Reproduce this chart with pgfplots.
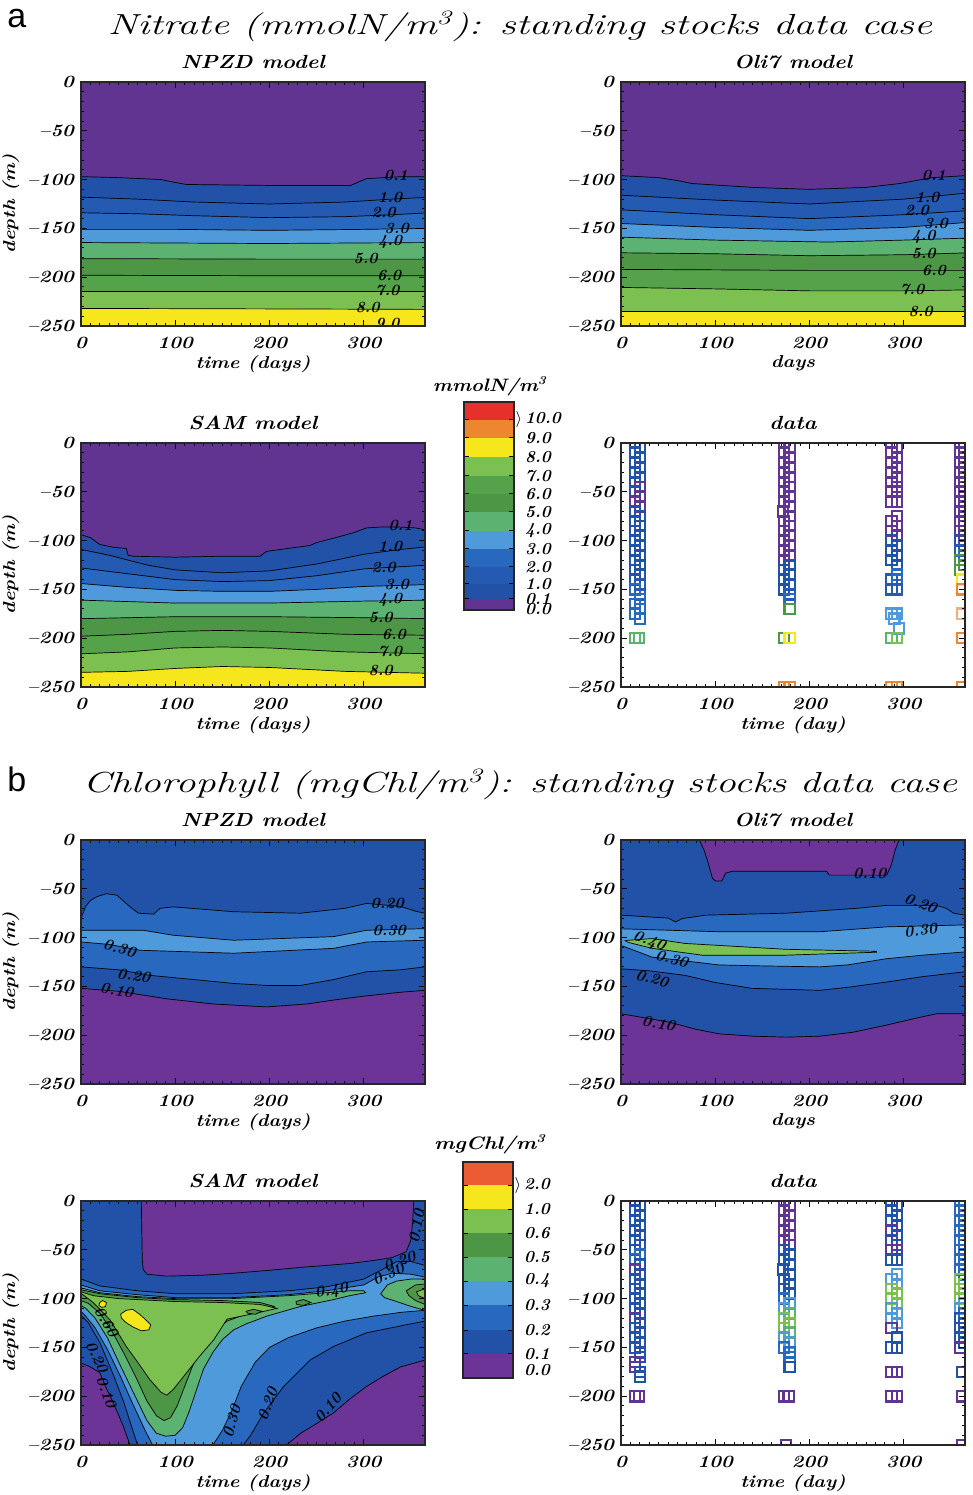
\documentclass[border=0pt]{standalone}
\usepackage{fontspec}
\usepackage{graphicx}
\usepackage{pgfplots}
\pgfplotsset{compat=1.18}
\usepackage{pgfplotstable}
\newfontfamily\lsans{Liberation Sans}
\definecolor{cP}{RGB}{98,52,146}
\definecolor{cPc}{RGB}{108,52,150}
\definecolor{cB1}{RGB}{33,82,168}
\definecolor{cB2}{RGB}{37,90,178}
\definecolor{cB3}{RGB}{40,104,190}
\definecolor{cLB}{RGB}{78,154,218}
\definecolor{cMG}{RGB}{92,178,112}
\definecolor{cDG}{RGB}{76,150,70}
\definecolor{cG}{RGB}{84,162,74}
\definecolor{cLG}{RGB}{124,192,82}
\definecolor{cY}{RGB}{246,230,28}
\definecolor{cO}{RGB}{238,134,48}
\definecolor{cR}{RGB}{230,48,44}
\definecolor{cRO}{RGB}{236,92,52}
\definecolor{cLO}{RGB}{242,176,130}
\newcommand{\TL}[1]{\scalebox{1.15}[1]{#1}}
\newcommand{\BI}{\bfseries\itshape}
\tikzset{cl/.style={font=\fontsize{7.8}{9}\selectfont\BI, inner sep=0.5pt}}
\pgfplotsset{
  panel/.style={scale only axis, width=172pt, height=122pt, anchor=south west,
    xmin=0, xmax=365, ymin=-250, ymax=0, axis on top, clip marker paths=true,
    xtick={0,100,200,300}, xticklabels={\TL{0},\TL{100},\TL{200},\TL{300}},
    ytick={0,-50,-100,-150,-200,-250},
    yticklabels={\TL{0},\TL{--50},\TL{--100},\TL{--150},\TL{--200},\TL{--250}},
    minor x tick num=9, minor y tick num=4,
    major tick length=3pt, minor tick length=1.5pt,
    tick style={black, line width=0.5pt},
    tick label style={font=\fontsize{8.6}{10}\selectfont\BI},
    xticklabel style={yshift=-2pt},
    label style={font=\fontsize{8.6}{10}\selectfont\BI},
    xlabel style={yshift=3.5pt},
    ylabel shift=-3pt,
    title style={font=\fontsize{9.5}{11}\selectfont\BI, yshift=-3pt},
    axis line style={black!85, line width=0.6pt}},
  lay/.style={fill=#1, draw=black, line width=0.35pt},
  cbar/.style={scale only axis, anchor=south west, width=25pt, xmin=0, xmax=1,
    xtick=\empty, yticklabel pos=right, axis on top,
    major tick length=2.5pt, tick style={black, line width=0.5pt},
    tick label style={font=\fontsize{8.4}{9}\selectfont\BI},
    yticklabel style={xshift=2pt},
    axis line style={black!85, line width=0.6pt},
    extra y tick style={major tick length=0pt}},
  dots/.style={scatter, only marks, mark=square, mark size=2.6pt,
    mark options={line width=1.1pt}, scatter src=explicit symbolic,
    scatter/classes={p={draw=cP},b1={draw=cB1},b2={draw=cB2},b3={draw=cB3},
      lb={draw=cLB},mg={draw=cMG},dg={draw=cDG},lg={draw=cLG},y={draw=cY},
      o={draw=cO},lo={draw=cLO}}},
}
\begin{document}
\pgfplotstableread{
x y c
15 0 p
20 -5 b1
15 -10 b1
20 -15 b1
15 -20 b1
20 -25 b1
15 -30 b1
20 -35 b1
15 -40 b1
20 -45 p
15 -50 b1
20 -55 p
15 -60 p
20 -65 p
15 -70 b1
20 -75 b1
15 -80 b1
20 -85 b1
15 -90 b1
20 -95 b1
15 -100 b1
20 -105 b1
15 -110 b1
20 -115 b1
15 -120 b1
20 -125 b1
15 -130 b1
20 -135 b1
15 -140 b1
20 -145 b2
15 -150 b3
20 -155 b2
20 -160 b3
15 -165 b3
20 -170 b3
15 -175 b3
20 -180 b3
15 -200 mg
19 -200 mg
173 0 p
179 -5 p
173 -10 p
179 -15 p
173 -20 p
179 -25 p
173 -30 p
179 -35 p
173 -40 p
179 -45 p
173 -50 p
179 -55 p
173 -60 p
179 -65 p
172 -70 p
179 -75 p
173 -80 p
179 -85 p
173 -90 p
179 -95 p
173 -100 p
179 -105 p
173 -110 p
179 -115 p
173 -120 p
179 -125 b1
173 -130 b1
179 -135 b1
173 -140 b1
179 -145 b1
173 -150 b1
179 -155 b2
179 -160 b3
179 -170 dg
173 -200 dg
179 -200 y
173 -250 o
179 -250 o
287 0 p
293 -5 p
287 -10 p
293 -15 p
287 -20 p
293 -25 p
287 -30 p
293 -35 p
287 -40 p
293 -45 p
287 -50 p
293 -50 p
287 -60 p
293 -60 p
293 -75 p
287 -80 p
293 -85 p
287 -90 p
293 -95 p
287 -100 b1
293 -105 b1
287 -110 b1
293 -115 b1
287 -120 b1
293 -125 b1
293 -135 b3
287 -140 b2
293 -140 b3
287 -150 b2
293 -150 b2
287 -175 lb
293 -175 lb
290 -180 lb
295 -190 lb
287 -200 mg
293 -200 lg
287 -250 o
293 -250 o
360 0 p
364 -5 p
360 -10 p
364 -15 p
360 -20 p
364 -25 p
360 -30 p
364 -35 p
360 -40 p
364 -45 p
360 -50 p
364 -55 p
360 -60 p
364 -65 p
360 -70 p
364 -75 p
360 -80 p
364 -85 p
360 -90 p
364 -95 p
360 -100 b1
364 -105 b2
360 -110 b2
364 -115 b3
360 -120 dg
364 -125 dg
360 -130 dg
362 -140 y
362 -150 o
362 -175 lo
362 -200 o
362 -250 o
}\nitdata
\pgfplotstableread{
x y c
15 0 b1
20 -5 b1
15 -10 b1
20 -15 b1
15 -20 b1
20 -25 b1
15 -30 b1
20 -35 b1
15 -40 b1
20 -45 b1
15 -50 b1
20 -55 b3
15 -60 b3
20 -65 b1
15 -70 p
20 -75 b1
15 -80 b1
20 -85 b1
15 -90 b1
20 -95 b1
15 -100 b1
20 -105 b1
15 -110 b1
20 -115 b1
15 -120 p
20 -125 b1
15 -130 b1
20 -135 b1
15 -140 b1
20 -145 b1
15 -150 b1
20 -155 b1
20 -160 b1
15 -165 p
15 -170 p
20 -175 b1
20 -180 b1
15 -200 p
19 -200 p
173 0 p
179 -5 p
173 -10 p
179 -15 p
173 -20 p
179 -25 p
173 -30 p
179 -35 p
173 -40 p
179 -45 p
173 -50 b1
179 -55 b1
173 -60 b1
179 -65 b1
172 -70 b1
179 -75 b1
173 -80 b1
179 -85 b1
173 -90 b1
179 -95 b1
173 -100 b3
179 -105 lb
173 -110 lb
179 -115 mg
173 -120 lg
179 -125 lg
173 -130 lg
179 -135 mg
173 -140 lb
179 -145 lb
173 -150 b3
179 -155 b3
179 -160 b3
179 -170 b1
173 -200 p
178 -200 p
175 -250 p
287 0 b1
293 -5 b1
287 -10 b1
293 -15 b1
287 -20 b1
293 -25 b1
287 -30 p
293 -35 b1
287 -40 b1
293 -45 b1
287 -50 p
293 -50 p
287 -60 b1
293 -60 b1
293 -75 lb
287 -80 lb
293 -85 lb
287 -90 lg
293 -95 lg
287 -100 lg
293 -105 lg
287 -110 lb
293 -115 lb
287 -120 lb
293 -125 lb
287 -130 p
293 -140 b1
287 -150 b1
293 -150 b1
287 -175 p
293 -175 p
287 -200 p
293 -200 p
360 0 b3
364 -5 b3
360 -10 b3
364 -15 b3
360 -20 b3
364 -25 b3
360 -30 b3
364 -35 b3
360 -40 b3
364 -45 b3
360 -50 b3
364 -55 b3
360 -60 b3
364 -65 b3
360 -70 b3
364 -75 b3
360 -80 lg
364 -85 lg
360 -90 lg
364 -95 lg
360 -100 lg
364 -105 lb
360 -110 lb
364 -115 b3
360 -120 b1
364 -125 b1
360 -130 b1
364 -135 b1
360 -140 b1
364 -145 b1
360 -150 p
362 -175 b1
362 -200 p
362 -250 p
}\chldata
\begin{tikzpicture}
\useasboundingbox (0,0) rectangle (486.5pt,747.5pt);
% ---------- titles ----------
\node[anchor=base west, inner sep=0pt, font=\lsans\fontsize{17}{19}\selectfont] at (3.5pt,733.5pt) {a};
\node[anchor=base, inner sep=0pt] at (260pt,730pt) {\resizebox{412pt}{\height}{\fontsize{14.5}{17}\selectfont\itshape Nitrate (mmolN/m\textsuperscript{3}): standing stocks data case}};
\node[anchor=base west, inner sep=0pt, font=\lsans\fontsize{17}{19}\selectfont] at (3.5pt,351.5pt) {b};
\node[anchor=base, inner sep=0pt] at (260pt,351pt) {\resizebox{437pt}{\height}{\fontsize{14.5}{17}\selectfont\itshape Chlorophyll (mgChl/m\textsuperscript{3}): standing stocks data case}};
\node[anchor=base, inner sep=0pt] at (245pt,551.5pt) {\resizebox{57pt}{\height}{\fontsize{9}{10}\selectfont\BI mmolN/m\textsuperscript{3}}};
\node[anchor=base, inner sep=0pt] at (245pt,172.5pt) {\resizebox{56pt}{\height}{\fontsize{9}{10}\selectfont\BI mgChl/m\textsuperscript{3}}};

% ---------- a: NPZD ----------
\begin{axis}[panel, at={(40.5pt,584.5pt)}, title={\TL{NPZD model}}, xlabel={\TL{time (days)}}, ylabel={\TL{depth (m)}}]
\addplot[fill=cP,draw=none] coordinates {(-5,5)(370,5)(370,-260)(-5,-260)};
\addplot[lay=cB1] coordinates {(-5,-97)(0,-97)(40,-98)(85,-100)(100,-103)(112,-105)(200,-106)(286,-106)(303,-99)(340,-97)(370,-97)(370,-260)(-5,-260)};
\addplot[lay=cB2] coordinates {(-5,-118)(0,-118)(60,-120)(120,-123)(200,-125)(280,-123)(330,-120)(370,-118)(370,-260)(-5,-260)};
\addplot[lay=cB3] coordinates {(-5,-134)(0,-134)(60,-135)(120,-137)(200,-139)(280,-138)(330,-136)(370,-134)(370,-260)(-5,-260)};
\addplot[lay=cLB] coordinates {(-5,-151)(0,-151)(100,-151)(200,-152)(300,-151)(370,-150)(370,-260)(-5,-260)};
\addplot[lay=cMG] coordinates {(-5,-164.5)(0,-164.5)(200,-165.5)(370,-164.5)(370,-260)(-5,-260)};
\addplot[lay=cDG] coordinates {(-5,-181)(0,-181)(200,-181.5)(370,-181.5)(370,-260)(-5,-260)};
\addplot[lay=cG] coordinates {(-5,-198)(0,-198)(200,-198.5)(370,-198.5)(370,-260)(-5,-260)};
\addplot[lay=cLG] coordinates {(-5,-215)(0,-215)(200,-215)(370,-215)(370,-260)(-5,-260)};
\addplot[lay=cY] coordinates {(-5,-232)(0,-232)(200,-232.5)(370,-233)(370,-260)(-5,-260)};
\addplot[black, line width=0.35pt] coordinates {(-5,-249)(370,-249)};
\node[cl] at (axis cs:334,-96) {0.1};
\node[cl] at (axis cs:328,-118) {1.0};
\node[cl] at (axis cs:321,-134) {2.0};
\node[cl] at (axis cs:335,-150) {3.0};
\node[cl] at (axis cs:328,-164) {4.0};
\node[cl] at (axis cs:302,-181) {5.0};
\node[cl] at (axis cs:327,-198) {6.0};
\node[cl] at (axis cs:325,-214) {7.0};
\node[cl] at (axis cs:304,-231) {8.0};
\node[cl] at (axis cs:325,-247) {9.0};
\end{axis}

% ---------- a: Oli7 ----------
\begin{axis}[panel, at={(310.5pt,584.5pt)}, title={\TL{Oli7 model}}, xlabel={\TL{days}}]
\addplot[fill=cP,draw=none] coordinates {(-5,5)(370,5)(370,-260)(-5,-260)};
\addplot[lay=cB1] coordinates {(-5,-96)(0,-96)(40,-98)(60,-101)(75,-104)(140,-108)(200,-110)(260,-108)(296,-104)(330,-98)(365,-96)(370,-96)(370,-260)(-5,-260)};
\addplot[lay=cB2] coordinates {(-5,-116)(0,-116)(100,-121)(200,-125)(300,-120)(365,-114)(370,-114)(370,-260)(-5,-260)};
\addplot[lay=cB3] coordinates {(-5,-131)(0,-131)(100,-136)(200,-140)(300,-136)(365,-132)(370,-132)(370,-260)(-5,-260)};
\addplot[lay=cLB] coordinates {(-5,-145)(0,-145)(100,-149)(200,-152)(300,-149)(365,-144)(370,-144)(370,-260)(-5,-260)};
\addplot[lay=cMG] coordinates {(-5,-159)(0,-159)(100,-162)(220,-164)(300,-162)(365,-160)(370,-160)(370,-260)(-5,-260)};
\addplot[lay=cDG] coordinates {(-5,-175)(0,-175)(100,-176)(200,-178)(300,-177)(370,-175)(370,-260)(-5,-260)};
\addplot[lay=cG] coordinates {(-5,-192)(0,-192)(200,-193)(370,-193)(370,-260)(-5,-260)};
\addplot[lay=cLG] coordinates {(-5,-210.5)(0,-210.5)(100,-212)(200,-214)(300,-214)(370,-213)(370,-260)(-5,-260)};
\addplot[lay=cY] coordinates {(-5,-235.5)(0,-235.5)(370,-235.5)(370,-260)(-5,-260)};
\node[cl] at (axis cs:332,-96) {0.1};
\node[cl] at (axis cs:325,-118) {1.0};
\node[cl] at (axis cs:314,-132) {2.0};
\node[cl] at (axis cs:334,-145) {3.0};
\node[cl] at (axis cs:321,-159) {4.0};
\node[cl] at (axis cs:321,-176) {5.0};
\node[cl] at (axis cs:332,-193) {6.0};
\node[cl] at (axis cs:309,-213) {7.0};
\node[cl] at (axis cs:318,-235) {8.0};
\end{axis}

% ---------- a: SAM ----------
\begin{axis}[panel, at={(40.5pt,404pt)}, title={\TL{SAM model}}, xlabel={\TL{time (days)}}, ylabel={\TL{depth (m)}}]
\addplot[fill=cP,draw=none] coordinates {(-5,5)(370,5)(370,-260)(-5,-260)};
\addplot[lay=cB1] coordinates {(-5,-94)(0,-94)(10,-97)(20,-104)(35,-107)(48,-108)(50,-115)(55,-116)(100,-117)(150,-116)(190,-116)(197,-111)(220,-108)(243,-105)(250,-102)(270,-97)(289,-92)(303,-87)(320,-86)(335,-86)(355,-87)(365,-89)(370,-89)(370,-260)(-5,-260)};
\addplot[lay=cB2] coordinates {(-5,-109)(0,-109)(30,-115)(70,-125)(100,-130)(150,-133)(200,-131)(250,-124)(300,-114)(340,-109)(370,-106)(370,-260)(-5,-260)};
\addplot[lay=cB3] coordinates {(-5,-128)(0,-128)(50,-134)(100,-140)(150,-142)(200,-141)(250,-136)(300,-129)(370,-125)(370,-260)(-5,-260)};
\addplot[lay=cLB] coordinates {(-5,-144)(0,-144)(50,-148)(100,-151)(150,-152)(200,-152)(250,-150)(300,-147)(370,-145)(370,-260)(-5,-260)};
\addplot[lay=cMG] coordinates {(-5,-161)(0,-161)(100,-164)(200,-164)(300,-162)(370,-161)(370,-260)(-5,-260)};
\addplot[lay=cDG] coordinates {(-5,-180)(0,-180)(50,-179)(100,-178)(200,-178)(300,-179)(370,-180)(370,-260)(-5,-260)};
\addplot[lay=cG] coordinates {(-5,-198)(0,-198)(50,-196)(100,-193)(150,-192)(200,-193)(280,-196)(370,-197)(370,-260)(-5,-260)};
\addplot[lay=cLG] coordinates {(-5,-216)(0,-216)(50,-214)(100,-210)(150,-209)(200,-210)(280,-214)(370,-216)(370,-260)(-5,-260)};
\addplot[lay=cY] coordinates {(-5,-235)(0,-235)(50,-234)(100,-231)(150,-229)(200,-230)(280,-234)(370,-236)(370,-260)(-5,-260)};
\node[cl] at (axis cs:339,-84) {0.1};
\node[cl] at (axis cs:328,-106) {1.0};
\node[cl] at (axis cs:321,-128) {2.0};
\node[cl] at (axis cs:335,-144.5) {3.0};
\node[cl] at (axis cs:328,-161) {4.0};
\node[cl] at (axis cs:318,-179) {5.0};
\node[cl] at (axis cs:332,-196) {6.0};
\node[cl] at (axis cs:328,-214) {7.0};
\node[cl] at (axis cs:318,-233.5) {8.0};
\end{axis}

% ---------- a: data ----------
\begin{axis}[panel, at={(310.5pt,404pt)}, title={\TL{data}}, xlabel={\TL{time (day)}}]
\addplot[dots] table[x=x, y=y, meta=c] {\nitdata};
\end{axis}

% ---------- a: colorbar ----------
\begin{axis}[cbar, at={(232pt,442.5pt)}, height=104pt, ymin=0, ymax=208,
  ytick={11,26,43,61,79,98,116,134,153,172,190},
  yticklabels={0.1,1.0,2.0,3.0,4.0,5.0,6.0,7.0,8.0,9.0,\llap{$\rangle$\,}10.0},
  extra y ticks={1}, extra y tick labels={0.0}]
\addplot[fill=cP,draw=none] coordinates {(0,0)(1,0)(1,11)(0,11)};
\addplot[fill=cB1,draw=none] coordinates {(0,11)(1,11)(1,26)(0,26)};
\addplot[fill=cB2,draw=none] coordinates {(0,26)(1,26)(1,43)(0,43)};
\addplot[fill=cB3,draw=none] coordinates {(0,43)(1,43)(1,61)(0,61)};
\addplot[fill=cLB,draw=none] coordinates {(0,61)(1,61)(1,79)(0,79)};
\addplot[fill=cMG,draw=none] coordinates {(0,79)(1,79)(1,98)(0,98)};
\addplot[fill=cDG,draw=none] coordinates {(0,98)(1,98)(1,116)(0,116)};
\addplot[fill=cG,draw=none] coordinates {(0,116)(1,116)(1,134)(0,134)};
\addplot[fill=cLG,draw=none] coordinates {(0,134)(1,134)(1,153)(0,153)};
\addplot[fill=cY,draw=none] coordinates {(0,153)(1,153)(1,172)(0,172)};
\addplot[fill=cO,draw=none] coordinates {(0,172)(1,172)(1,190)(0,190)};
\addplot[fill=cR,draw=none] coordinates {(0,190)(1,190)(1,208)(0,208)};
\end{axis}

% ---------- b: NPZD ----------
\begin{axis}[panel, at={(40.5pt,205.5pt)}, title={\TL{NPZD model}}, xlabel={\TL{time (days)}}, ylabel={\TL{depth (m)}}]
\addplot[fill=cB1,draw=none] coordinates {(-5,5)(370,5)(370,-260)(-5,-260)};
\addplot[lay=cB3] coordinates {(-5,-80)(0,-80)(5,-68)(10,-62)(17,-58)(27,-55)(38,-56.5)(52,-68.5)(61,-75)(77,-76)(84,-70)(98,-68.5)(162,-73.5)(233,-75)(280,-70)(303,-65)(339,-68)(355,-73)(365,-75)(370,-75)
 (370,-130)(365,-130)(339,-133)(303,-135)(268,-143)(233,-149)(197,-149)(162,-147)(120,-143)(73,-138.7)(40,-133)(0,-130)(-5,-130)};
\addplot[lay=cLB] coordinates {(-5,-92.5)(0,-92.5)(66,-92.5)(98,-97.6)(162,-102.7)(268,-99)(303,-92.5)(365,-90.8)(370,-90.8)
 (370,-102.7)(365,-102.7)(303,-104.5)(268,-111)(162,-116)(63,-113)(30,-107)(0,-104.5)(-5,-104.5)};
\addplot[lay=cPc] coordinates {(-5,-152)(0,-152)(40,-155)(91,-162.7)(140,-168)(197,-171)(240,-168)(268,-164)(300,-160)(339,-156)(365,-154)(370,-154)(370,-260)(-5,-260)};
\node[cl] at (axis cs:325,-65) {0.20};
\node[cl] at (axis cs:327,-92.5) {0.30};
\node[cl, rotate=-15] at (axis cs:41,-111) {0.30};
\node[cl, rotate=-8] at (axis cs:56,-139) {0.20};
\node[cl, rotate=-8] at (axis cs:38,-154) {0.10};
\end{axis}

% ---------- b: Oli7 ----------
\begin{axis}[panel, at={(310.5pt,205.5pt)}, title={\TL{Oli7 model}}, xlabel={\TL{days}}]
\addplot[fill=cB1,draw=none] coordinates {(-5,5)(370,5)(370,-260)(-5,-260)};
\addplot[lay=cPc] coordinates {(83,5)(83,0)(88,-10)(92,-22)(97,-39)(100,-42)(107,-42)(111,-34)(118,-32)(218,-32)(221,-36)(282,-36)(287,-25)(291,-10)(295,0)(295,5)};
\addplot[lay=cB3] coordinates {(-5,-77)(0,-77)(50,-80)(58,-84)(65,-80.5)(90,-77)(175,-75)(250,-70)(282,-67)(335,-67)(345,-70)(353,-75)(365,-77)(370,-77)
 (370,-135)(365,-135)(320,-140)(282,-145.5)(240,-151)(211,-154)(175,-153)(139,-152)(100,-146)(68,-138.7)(30,-134)(0,-132)(-5,-132)};
\addplot[lay=cLB] coordinates {(-5,-91)(0,-91)(104,-94)(211,-94)(282,-89)(365,-87)(370,-87)
 (370,-114.7)(365,-114.7)(320,-118)(282,-121.6)(240,-128)(211,-130)(150,-129)(104,-128)(60,-123)(33,-120)(0,-108)(-5,-106)};
\addplot[lay=cLG] coordinates {(4,-103)(33,-101)(68,-106)(175,-112)(271,-114)(271,-115)(175,-118)(86,-118)(33,-111)(8,-105)(4,-103)};
\addplot[lay=cPc] coordinates {(-5,-178)(0,-178)(51,-186.6)(80,-194)(104,-198.6)(140,-201)(175,-202)(211,-201)(246,-197)(280,-190)(318,-181.5)(335,-178)(365,-178)(370,-178)(370,-260)(-5,-260)};
\node[cl] at (axis cs:264,-34) {0.10};
\node[cl, rotate=-20] at (axis cs:318,-65) {0.20};
\node[cl, rotate=8] at (axis cs:318,-92.5) {0.30};
\node[cl, rotate=-20] at (axis cs:30,-104) {0.40};
\node[cl, rotate=-15] at (axis cs:54,-121.6) {0.30};
\node[cl, rotate=-15] at (axis cs:33,-142) {0.20};
\node[cl, rotate=-10] at (axis cs:40,-188) {0.10};
\end{axis}

% ---------- b: SAM ----------
\begin{axis}[panel, at={(40.5pt,25pt)}, title={\TL{SAM model}}, xlabel={\TL{time (days)}}, ylabel={\TL{depth (m)}}]
\addplot[fill=cB1,draw=none] coordinates {(-5,5)(370,5)(370,-260)(-5,-260)};
\addplot[lay=cPc] coordinates {(64,5)(64,0)(65,-60)(66,-70)(70,-75)(91,-77)(130,-76)(162,-74)(200,-71)(233,-68)(260,-66)(286,-64)(310,-61)(330,-58)(345,-52)(350,-40)(352,-20)(353,0)(353,5)};
\addplot[lay=cPc] coordinates {(-5,-166)(0,-166)(10,-170)(20,-176)(26,-190)(31,-200)(38,-215)(45,-231)(52,-250)(54,-260)(-5,-260)};
\addplot[lay=cPc] coordinates {(210,-260)(218,-250)(233,-238)(250,-228)(268,-217)(285,-203)(303,-190)(320,-180)(339,-170)(365,-163)(370,-162)(370,-260)};
\addplot[lay=cB3] coordinates {(-5,-80)(0,-80)(20,-87)(60,-92)(100,-95)(160,-95)(220,-92)(260,-88)(300,-80)(320,-70)(335,-62)(350,-62)(365,-66)(370,-66)
 (370,-123)(365,-123)(339,-128)(303,-135)(268,-149)(243,-163)(215,-190)(194,-217)(180,-240)(172,-250)(170,-260)
 (65,-260)(60,-250)(55,-235)(45,-205)(33,-175)(20,-145)(8,-125)(0,-117)(-5,-115)};
\addplot[lay=cLB] coordinates {(-5,-86)(0,-86)(20,-92)(60,-96)(100,-99)(160,-99)(220,-96)(260,-92)(300,-86)(315,-78)(330,-74)(350,-75)(365,-78)(370,-78)
 (370,-112)(365,-112)(340,-114)(310,-118)(280,-123)(250,-130)(220,-140)(200,-150)(185,-165)(170,-190)(160,-215)(150,-235)(140,-250)(138,-260)
 (80,-260)(76,-250)(68,-235)(55,-208)(42,-180)(28,-152)(15,-130)(5,-118)(0,-113)(-5,-112)};
\addplot[lay=cMG] coordinates {(-5,-89)(0,-89)(20,-94)(60,-98)(100,-100)(160,-100)(220,-97)(260,-94)(285,-92)(300,-92)(302,-94)(285,-97)(268,-101)(233,-108)(197,-118)(175,-126)(162,-132)(150,-142)(140,-155)(130,-172)(122,-195)(115,-215)(108,-232)(100,-240)(90,-241)(80,-238)(70,-225)(60,-205)(50,-185)(40,-165)(28,-140)(15,-120)(5,-110)(0,-107)(-5,-106)};
\addplot[lay=cDG] coordinates {(-5,-91)(0,-91)(20,-95)(60,-99)(100,-101)(150,-102)(190,-104)(205,-108)(195,-112)(175,-116)(155,-123)(140,-135)(128,-150)(118,-170)(110,-190)(102,-210)(95,-222)(88,-225)(80,-220)(70,-205)(58,-180)(45,-155)(32,-132)(20,-115)(8,-105)(0,-102)(-5,-101)};
\addplot[lay=cLG] coordinates {(-5,-93)(0,-93)(13,-97)(40,-100)(100,-103)(150,-104)(190,-106)(208,-110)(190,-114)(170,-118)(155,-121)(141,-142)(125,-160)(112,-176)(98,-193)(91,-199)(85,-196)(73,-183)(60,-165)(48,-149)(31,-122)(13,-104)(2,-96)(-5,-94)};
\addplot[lay=cY] coordinates {(20,-104)(23,-102)(27,-104)(26,-108)(22,-109)(19,-107)(20,-104)};
\addplot[lay=cY] coordinates {(42,-116)(48,-112)(55,-111)(62,-116)(68,-121)(74,-127)(72,-132)(64,-133)(55,-129)(47,-124)(43,-120)(42,-116)};
\addplot[lay=cDG] coordinates {(175,-113)(183,-111)(192,-113)(185,-116)(177,-115)(175,-113)};
\addplot[lay=cDG] coordinates {(228,-103)(236,-101)(244,-104)(236,-107)(229,-106)(228,-103)};
\addplot[lay=cMG] coordinates {(318,-95)(325,-86)(335,-82)(350,-80)(365,-80)(370,-80)(370,-112)(365,-112)(350,-108)(335,-103)(322,-99)(318,-95)};
\addplot[lay=cDG] coordinates {(345,-92)(355,-86)(365,-85)(370,-85)(370,-106)(365,-106)(355,-102)(348,-97)(345,-92)};
\addplot[lay=cLG] coordinates {(356,-93)(365,-90)(370,-90)(370,-100)(365,-100)(358,-97)(356,-93)};
\node[cl, rotate=80] at (axis cs:356,-26) {0.10};
\node[cl, rotate=20] at (axis cs:338,-62) {0.20};
\node[cl, rotate=25] at (axis cs:326,-75) {0.30};
\node[cl, rotate=10] at (axis cs:266,-92.5) {0.40};
\node[cl, rotate=-60] at (axis cs:27,-124) {0.60};
\node[cl, rotate=-65] at (axis cs:17,-160) {0.20};
\node[cl, rotate=-70] at (axis cs:27,-196) {0.10};
\node[cl, rotate=75] at (axis cs:160,-226) {0.30};
\node[cl, rotate=70] at (axis cs:198,-208) {0.20};
\node[cl, rotate=50] at (axis cs:262,-212) {0.10};
\end{axis}

% ---------- b: data ----------
\begin{axis}[panel, at={(310.5pt,25pt)}, title={\TL{data}}, xlabel={\TL{time (day)}}]
\addplot[dots] table[x=x, y=y, meta=c] {\chldata};
\end{axis}

% ---------- b: colorbar ----------
\begin{axis}[cbar, at={(231.5pt,58.5pt)}, height=108pt, ymin=0, ymax=216,
  ytick={24,48,73,97,121,145,169,193},
  yticklabels={0.1,0.2,0.3,0.4,0.5,0.6,1.0,\llap{$\rangle$\,}2.0},
  extra y ticks={8}, extra y tick labels={0.0}]
\addplot[fill=cPc,draw=none] coordinates {(0,0)(1,0)(1,24)(0,24)};
\addplot[fill=cB1,draw=none] coordinates {(0,24)(1,24)(1,48)(0,48)};
\addplot[fill=cB3,draw=none] coordinates {(0,48)(1,48)(1,73)(0,73)};
\addplot[fill=cLB,draw=none] coordinates {(0,73)(1,73)(1,97)(0,97)};
\addplot[fill=cMG,draw=none] coordinates {(0,97)(1,97)(1,121)(0,121)};
\addplot[fill=cDG,draw=none] coordinates {(0,121)(1,121)(1,145)(0,145)};
\addplot[fill=cLG,draw=none] coordinates {(0,145)(1,145)(1,169)(0,169)};
\addplot[fill=cY,draw=none] coordinates {(0,169)(1,169)(1,193)(0,193)};
\addplot[fill=cRO,draw=none] coordinates {(0,193)(1,193)(1,216)(0,216)};
\end{axis}
\end{tikzpicture}
\end{document}
